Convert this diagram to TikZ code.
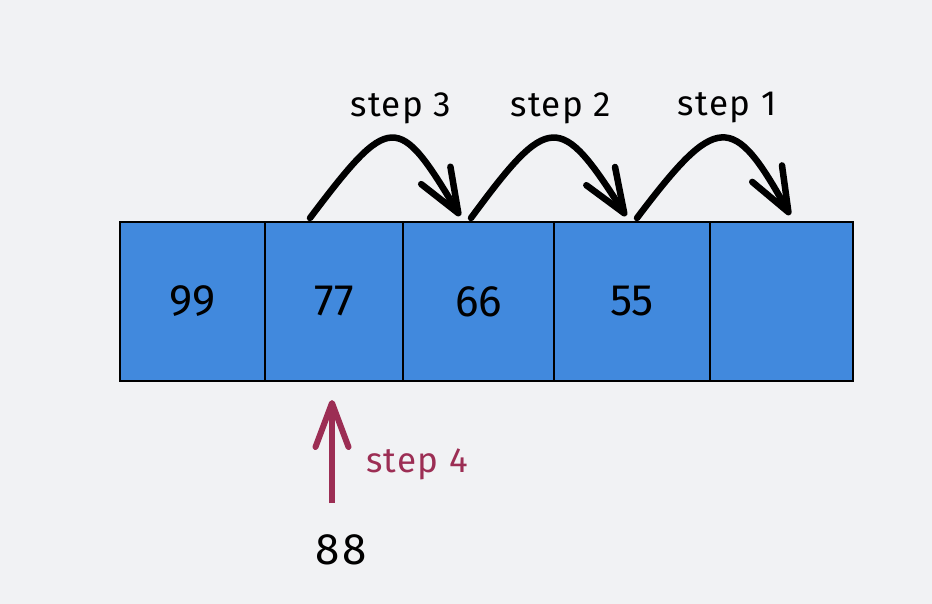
\documentclass[tikz,border=0pt]{standalone}
\usepackage{fontspec}
\setmainfont{Fira Sans}
\usepackage{xcolor}
\usetikzlibrary{arrows.meta,positioning}
\definecolor{bgpaper}{HTML}{F1F2F4}
\definecolor{cellblue}{HTML}{4189DD}
\definecolor{stepred}{HTML}{9C2E54}

\begin{document}
\begin{tikzpicture}[
    x=1pt, y=-1pt,
    cell/.style={rectangle, draw=black, fill=cellblue, line width=2.2pt, outer sep=0pt, minimum height=159pt, inner sep=0pt, font=\fontsize{44}{46}\selectfont},
    jump/.style={line width=6.5pt, draw=black, line cap=round, -{Straight Barb[length=44pt, width=34pt, line width=6.5pt, round]}},
    push/.style={line width=6pt, draw=stepred, -{Straight Barb[length=44pt, width=33pt, line width=6pt, round]}},
    steplabel/.style={font=\fontsize{35}{37}\selectfont\addfontfeatures{LetterSpace=4}}
]
\fill[bgpaper] (0,0) rectangle (932,604);
\useasboundingbox (0,0) rectangle (932,604);

% array cells
\node[cell, minimum width=145pt] (c1) at (192.5,301.5) {99};
\node[cell, minimum width=138pt, right=0pt of c1] (c2) {77};
\node[cell, minimum width=151pt, right=0pt of c2] (c3) {66};
\node[cell, minimum width=156pt, right=0pt of c3] (c4) {55};
\node[cell, minimum width=143pt, right=0pt of c4] (c5) {};

% shifting steps
\coordinate (a3) at (310,218);
\coordinate (b3) at (460,216);
\coordinate (a2) at (471,218);
\coordinate (b2) at (626,216);
\coordinate (a1) at (637,218);
\coordinate (b1) at (790,215);

\draw[jump] (a3) .. controls (390,112) and (398,112) .. (b3);
\draw[jump] (a2) .. controls (549,112) and (560,112) .. (b2);
\draw[jump] (a1) .. controls (717,112) and (733,112) .. (b1);

\node[steplabel] (t3) at (401,108) {step 3};
\node[steplabel] (t2) at (561,108) {step 2};
\node[steplabel] (t1) at (727,108) {step 1};

% inserting the new value
\node[font=\fontsize{44}{46}\selectfont\addfontfeatures{LetterSpace=6}] (n88) at (341,550) {88};
\coordinate (p0) at (332,503);
\coordinate (p1) at (332,400);
\draw[push] (p0) -- (p1);
\node[steplabel, text=stepred] (t4) at (417,464) {step 4};
\end{tikzpicture}
\end{document}
